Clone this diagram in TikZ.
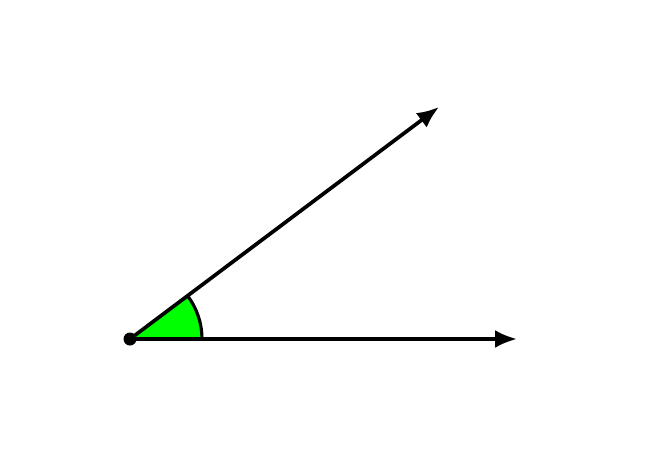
\documentclass[tikz,border=0pt]{standalone}
\usepackage{tikz}
\usetikzlibrary{angles,quotes}
\usetikzlibrary{arrows.meta}

\begin{document}
\begin{tikzpicture}[ray/.style={line width=2.1pt,-{Latex[length=0.44cm,width=0.36cm]}}]
\useasboundingbox (0,0) rectangle (13,9);
\coordinate (O) at (2.6,2.22);
\coordinate (A) at (10.34,2.22);
\coordinate (B) at (8.78,6.86);
\pic[draw,line width=1.8pt,fill=green,angle radius=1.44cm] {angle=A--O--B};
\draw[ray] (O) -- (A);
\draw[ray] (O) -- (B);
\fill (O) circle (0.13);
\end{tikzpicture}
\end{document}
